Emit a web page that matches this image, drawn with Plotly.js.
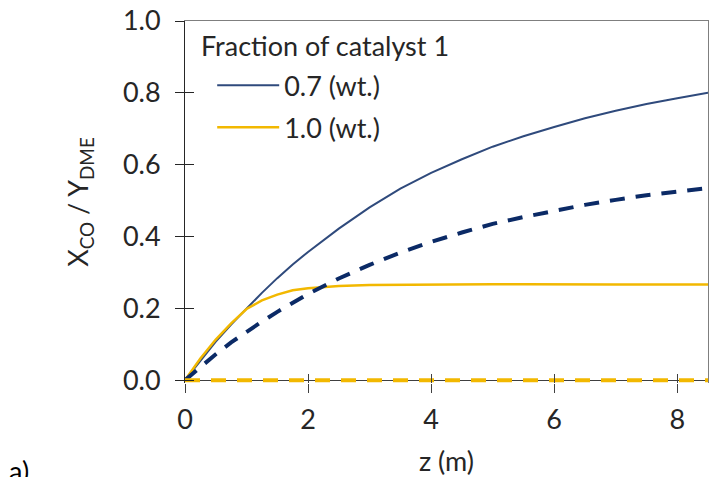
<!DOCTYPE html>
<html>
<head>
<meta charset="utf-8">
<script src="https://cdn.plot.ly/plotly-3.0.1.min.js"></script>
<style>html,body{margin:0;padding:0;background:#fff;}#chart{width:709px;height:477px;}</style>
</head>
<body>
<div id="chart"></div>
<script>
// z positions (m)
const z = [0, 0.25, 0.5, 0.75, 1, 1.25, 1.5, 1.75, 2, 2.5, 3, 3.5, 4, 4.5, 5, 5.5, 6, 6.5, 7, 7.5, 8, 8.5];
// Fraction of catalyst 1 = 0.7 (wt.)
const xco07 = [0, 0.055, 0.107, 0.155, 0.200, 0.243, 0.284, 0.322, 0.357, 0.422, 0.481, 0.533, 0.577, 0.615, 0.650, 0.679, 0.705, 0.729, 0.750, 0.769, 0.785, 0.800];
const ydme07 = [0, 0.037, 0.072, 0.105, 0.135, 0.163, 0.190, 0.216, 0.240, 0.283, 0.321, 0.355, 0.385, 0.411, 0.435, 0.454, 0.472, 0.488, 0.502, 0.515, 0.525, 0.535];
// Fraction of catalyst 1 = 1.0 (wt.)
const xco10 = [0, 0.060, 0.113, 0.158, 0.198, 0.222, 0.238, 0.250, 0.256, 0.262, 0.265, 0.266, 0.267, 0.267, 0.267, 0.267, 0.266, 0.266, 0.266, 0.266, 0.266, 0.266];
const ydme10 = [0, 0, 0, 0, 0, 0, 0, 0, 0, 0, 0, 0, 0, 0, 0, 0, 0, 0, 0, 0, 0, 0];
const seriesNames = ['0.7 (wt.)', '1.0 (wt.)'];
const legendTitle = 'Fraction of catalyst 1';
const xTicks = [0, 2, 4, 6, 8];
const yTicks = [0, 0.2, 0.4, 0.6, 0.8, 1.0];
const yTickText = ['0.0', '0.2', '0.4', '0.6', '0.8', '1.0'];

const navy = '#2F4A7C', navyDark = '#0B2A66', gold = '#F2B800';
const FONT = 'Lato, "Open Sans", sans-serif';
const FS = 27;
const TXT = '#262626';

const traces = [
  {x: z, y: xco07, mode: 'lines', name: seriesNames[0], line: {color: navy, width: 2}, legendgroup: 'a'},
  {x: z, y: xco10, mode: 'lines', name: seriesNames[1], line: {color: gold, width: 2.5}, legendgroup: 'b'},
  {x: z, y: ydme07, mode: 'lines', name: 'Y 0.7', showlegend: false, line: {color: navyDark, width: 4, dash: '15px,11px'}},
  {x: z, y: ydme10, mode: 'lines', name: 'Y 1.0', showlegend: false, line: {color: gold, width: 4, dash: '15px,11px'}},
  // helper traces for secondary axes (crossing ticks and frame)
  {x: [0], y: [0], xaxis: 'x2', yaxis: 'y2', mode: 'markers', marker: {opacity: 0}, showlegend: false, hoverinfo: 'skip'},
  {x: [0], y: [0], xaxis: 'x3', yaxis: 'y3', mode: 'markers', marker: {opacity: 0}, showlegend: false, hoverinfo: 'skip'}
];

const yr = [-0.008, 1];
const xr = [0, 8.5];
const layout = {
  width: 709, height: 477,
  margin: {l: 185, r: 1, t: 21, b: 94, pad: 0},
  paper_bgcolor: '#fff', plot_bgcolor: '#fff',
  font: {family: FONT, size: FS, color: TXT},
  showlegend: true,
  legend: {
    x: 0.052, y: 0.889, xanchor: 'left', yanchor: 'top',
    bgcolor: 'rgba(0,0,0,0)', borderwidth: 0,
    font: {family: FONT, size: FS, color: TXT},
    tracegroupgap: 4, traceorder: 'grouped', itemwidth: 62
  },
  xaxis: {
    range: xr, tickvals: xTicks, ticktext: xTicks.map(String),
    ticks: 'outside', ticklen: 9, tickwidth: 1, tickcolor: '#404040',
    showline: false, showgrid: false, zeroline: false, ticklabelstandoff: 4,
    tickfont: {family: FONT, size: FS, color: TXT},
    title: {text: 'z (m)', font: {family: FONT, size: FS, color: TXT}, standoff: 17},
    fixedrange: true
  },
  yaxis: {
    range: yr, tickvals: yTicks, ticktext: yTickText,
    ticks: 'outside', ticklen: 9, tickwidth: 1, tickcolor: '#262626',
    showline: true, linecolor: '#262626', linewidth: 1, ticklabelstandoff: 9,
    showgrid: false, zeroline: true, zerolinecolor: '#404040', zerolinewidth: 1,
    tickfont: {family: FONT, size: FS, color: TXT},
    title: {text: 'X<sub>CO</sub> / Y<sub>DME</sub>', font: {family: FONT, size: FS, color: TXT}, standoff: 26},
    fixedrange: true
  },
  xaxis2: {
    overlaying: 'x', anchor: 'y2', side: 'bottom', range: xr, tickvals: xTicks,
    ticks: 'inside', ticklen: 9, tickcolor: '#404040', showticklabels: false,
    showline: false, showgrid: false, zeroline: false
  },
  yaxis2: {
    overlaying: 'y', anchor: 'x2', side: 'left', range: yr, tickvals: yTicks,
    ticks: 'inside', ticklen: 9, tickcolor: '#262626', showticklabels: false,
    showline: false, showgrid: false, zeroline: false
  },
  xaxis3: {
    overlaying: 'x', anchor: 'y3', side: 'top', range: xr,
    ticks: '', showticklabels: false, showline: true, linecolor: '#7F7F7F', linewidth: 1.5,
    showgrid: false, zeroline: false
  },
  yaxis3: {
    overlaying: 'y', anchor: 'x3', side: 'right', range: yr,
    ticks: '', showticklabels: false, showline: true, linecolor: '#7F7F7F', linewidth: 1.5,
    showgrid: false, zeroline: false
  },
  annotations: [
    {text: legendTitle, xref: 'paper', yref: 'paper', x: 0.027, y: 0.931, xanchor: 'left', yanchor: 'middle',
     showarrow: false, font: {family: FONT, size: FS, color: TXT}},
    {text: 'a)', xref: 'paper', yref: 'paper', x: -0.34, y: -0.19, xanchor: 'left', yanchor: 'top',
     showarrow: false, font: {family: FONT, size: FS, color: '#000'}}
  ]
};

Plotly.newPlot('chart', traces, layout, {displayModeBar: false, staticPlot: true});
</script>
</body>
</html>
